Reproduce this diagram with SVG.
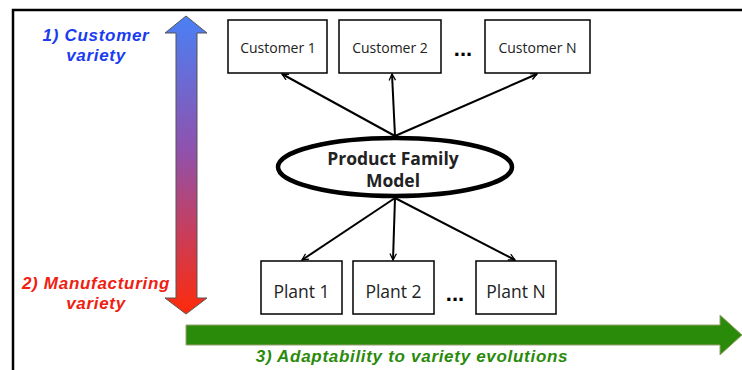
<svg xmlns="http://www.w3.org/2000/svg" width="742" height="370" viewBox="0 0 742 370">
<defs>
<linearGradient id="vg" x1="0" y1="16" x2="0" y2="314" gradientUnits="userSpaceOnUse">
<stop offset="0" stop-color="#4a80f5"/>
<stop offset="0.45" stop-color="#8f52ad"/>
<stop offset="1" stop-color="#ff2a0a"/>
</linearGradient>
<marker id="ah" viewBox="0 0 10 10" refX="9" refY="5" markerWidth="8" markerHeight="8" orient="auto" markerUnits="userSpaceOnUse">
<path d="M1,1 L9,5 L1,9" fill="none" stroke="#000" stroke-width="1.6"/>
</marker>
<style>
.box{fill:#fff;stroke:#000;stroke-width:1.5}
.lbl{font-family:"Open Sans","Liberation Sans",sans-serif;font-size:14px;fill:#222;text-anchor:middle}
.plbl{font-family:"Open Sans","Liberation Sans",sans-serif;font-size:17.5px;fill:#222;text-anchor:middle}
.dots{font-family:"Liberation Sans",sans-serif;font-size:22px;font-weight:bold;fill:#000;text-anchor:middle}
.conn{stroke:#000;stroke-width:2;fill:none;marker-end:url(#ah)}
.cap{font-family:"Liberation Sans",Arial,sans-serif;font-size:17px;letter-spacing:0.7px;font-weight:bold;font-style:italic;text-anchor:middle}
</style>
</defs>
<rect width="742" height="370" fill="#fff"/>
<path d="M13,370 L13,10 L742,10" fill="none" stroke="#000" stroke-width="2.5"/>

<g id="variety-arrow">
<path d="M186,16 L207,33 L197,33 L197,298 L207,298 L186,314 L165,298 L176,298 L176,33 L165,33 Z" fill="url(#vg)" stroke="#555" stroke-width="1"/>
</g>
<g id="evolution-arrow">
<path d="M186,325 L720,325 L720,315 L742,335 L720,355 L720,345 L186,345 Z" fill="#2a8a0a" stroke="#9aa070" stroke-width="1"/>
</g>

<g id="cap1"><text class="cap" fill="#1a3cf0" x="96" y="41">1) Customer</text><text class="cap" fill="#1a3cf0" x="96" y="61">variety</text></g>
<g id="cap2"><text class="cap" fill="#f02010" x="96" y="289">2) Manufacturing</text><text class="cap" fill="#f02010" x="96" y="309">variety</text></g>
<g id="cap3"><text class="cap" fill="#2a8a0a" x="412" y="362">3) Adaptability to variety evolutions</text></g>

<g id="connectors">
<line class="conn" x1="395" y1="136" x2="282" y2="74"/>
<line class="conn" x1="395" y1="136" x2="392" y2="74"/>
<line class="conn" x1="395" y1="136" x2="537" y2="74"/>
<line class="conn" x1="395" y1="198" x2="302" y2="260"/>
<line class="conn" x1="395" y1="198" x2="393" y2="260"/>
<line class="conn" x1="395" y1="198" x2="515" y2="260"/>
</g>

<g id="customer1"><rect class="box" x="228" y="20" width="99" height="53"/><text class="lbl" x="278" y="53">Customer 1</text></g>
<g id="customer2"><rect class="box" x="339" y="20" width="102" height="53"/><text class="lbl" x="390" y="53">Customer 2</text></g>
<g id="customerN"><rect class="box" x="485" y="20" width="105" height="53"/><text class="lbl" x="537.5" y="53">Customer N</text></g>
<text class="dots" x="463" y="56">...</text>

<g id="model"><ellipse cx="395" cy="167" rx="117" ry="29" fill="#fff" stroke="#000" stroke-width="4.5"/>
<text class="plbl" font-weight="bold" x="393" y="165" fill="#111">Product Family</text>
<text class="plbl" font-weight="bold" x="393" y="187" fill="#111">Model</text></g>

<g id="plant1"><rect class="box" x="261" y="261" width="81" height="53"/><text class="plbl" x="301.5" y="298">Plant 1</text></g>
<g id="plant2"><rect class="box" x="353" y="261" width="81" height="53"/><text class="plbl" x="393.5" y="298">Plant 2</text></g>
<g id="plantN"><rect class="box" x="476" y="261" width="80" height="53"/><text class="plbl" x="516" y="298">Plant N</text></g>
<text class="dots" x="455" y="301">...</text>
</svg>
